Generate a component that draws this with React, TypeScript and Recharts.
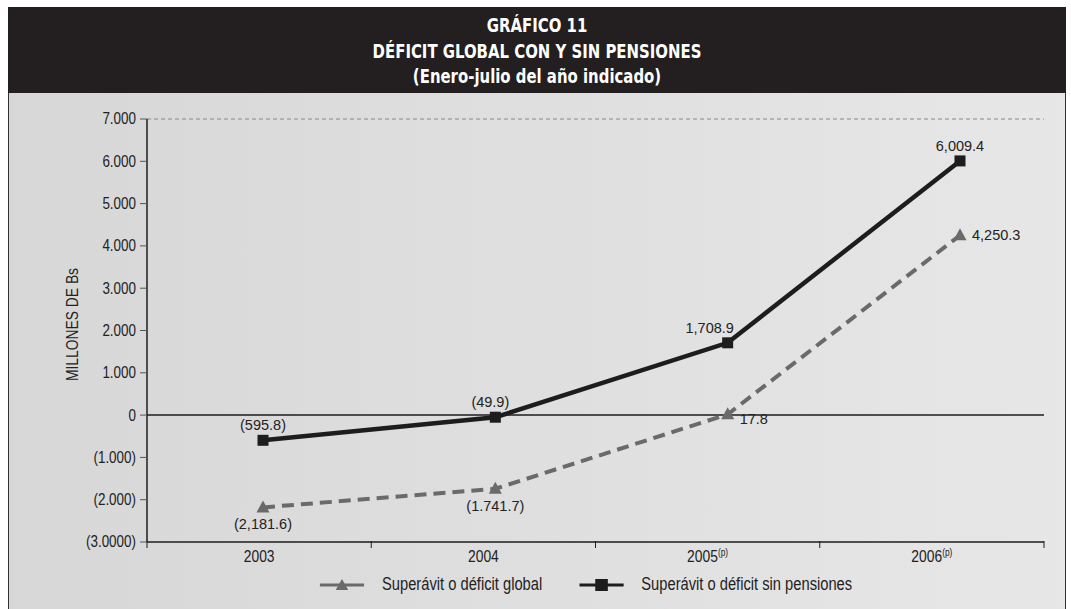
import { LabelList, Legend, Line, LineChart, ReferenceLine, XAxis, YAxis } from "recharts";

const years = ["2003", "2004", "2005", "2006"];
const yearMarks = ["", "", "(p)", "(p)"];
const globalValues = [-2181.6, -1741.7, 17.8, 4250.3];
const sinPensionesValues = [-595.8, -49.9, 1708.9, 6009.4];
const globalLabels = ["(2,181.6)", "(1.741.7)", "17.8", "4,250.3"];
const sinPensionesLabels = ["(595.8)", "(49.9)", "1,708.9", "6,009.4"];
const yTicks = [-3000, -2000, -1000, 0, 1000, 2000, 3000, 4000, 5000, 6000, 7000];
const yTickLabels = ["(3.0000)", "(2.000)", "(1.000)", "0", "1.000", "2.000", "3.000", "4.000", "5.000", "6.000", "7.000"];

// label placement tweaks (kept apart from the values)
const globalLabelPlace = ["below", "below", "right", "right"];
const sinLabelShift = [0, -5, -18, 0];

const data = years.map((year, i) => ({
  year,
  global: globalValues[i],
  sinPensiones: sinPensionesValues[i],
}));

const W = 1071;
const H = 609;
const M = { top: 119, right: 27, bottom: 37, left: 67 };
const Y_AXIS_W = 80;
const plotW = W - M.left - Y_AXIS_W - M.right;
const band = plotW / years.length;

const SANS = '"Liberation Sans", Arial, sans-serif';
const NARROW_X = 0.84; // fake "Arial Narrow" by squeezing Liberation Sans
const DARK = "#1d1d1d";
const GREY = "#6a6a6a";

const XTick = (props: any) => {
  const { x, y, index, payload } = props;
  const axisY = y - 9;
  const last = index === years.length - 1;
  return (
    <g>
      <line x1={x - band / 2} x2={x - band / 2} y1={axisY - 1} y2={axisY + 6} stroke={DARK} />
      {last && <line x1={x + band / 2} x2={x + band / 2} y1={axisY - 1} y2={axisY + 6} stroke={DARK} />}
      <text transform={`translate(${x} ${y + 11}) scale(${NARROW_X} 1)`} textAnchor="middle" fontFamily={SANS} fontSize={16.5} fill="#222">
        {payload.value}
        {yearMarks[index] && (
          <tspan fontSize={10} dy={-6}>
            {yearMarks[index]}
          </tspan>
        )}
      </text>
    </g>
  );
};

const YTick = (props: any) => {
  const { x, y, index } = props;
  return (
    <text transform={`translate(${x} ${y}) scale(${NARROW_X} 1)`} textAnchor="end" dominantBaseline="central" fontFamily={SANS} fontSize={16} fill="#222">
      {yTickLabels[index]}
    </text>
  );
};

const Square = (props: any) => {
  const { cx, cy, index } = props;
  return <rect key={`sq-${index}`} x={cx - 5.5} y={cy - 5.5} width={11} height={11} fill={DARK} />;
};

const Triangle = (props: any) => {
  const { cx, cy, index } = props;
  return <path key={`tr-${index}`} d={`M${cx},${cy - 7} L${cx + 6.5},${cy + 5} L${cx - 6.5},${cy + 5} Z`} fill={GREY} />;
};

const SinLabel = (props: any) => {
  const { x, y, index } = props;
  return (
    <text x={x + sinLabelShift[index]} y={y - 10} textAnchor="middle" fontFamily={SANS} fontSize={14.5} fill="#222">
      {sinPensionesLabels[index]}
    </text>
  );
};

const GlobalLabel = (props: any) => {
  const { x, y, index } = props;
  if (globalLabelPlace[index] === "right") {
    return (
      <text x={x + 12} y={y + 5 + (index === 2 ? 5 : 0)} textAnchor="start" fontFamily={SANS} fontSize={14.5} fill="#222">
        {globalLabels[index]}
      </text>
    );
  }
  return (
    <text x={x} y={y + 22} textAnchor="middle" fontFamily={SANS} fontSize={14.5} fill="#222">
      {globalLabels[index]}
    </text>
  );
};

const LegendContent = (props: any) => {
  const items = props.payload || [];
  return (
    <div
      style={{
        display: "flex",
        justifyContent: "center",
        gap: 44,
        fontFamily: SANS,
        fontSize: 17.5,
        color: "#222",
        transform: `scaleX(${NARROW_X})`,
        transformOrigin: "center",
      }}
    >
      {items.map((it: any) => {
        const dashedGlobal = it.dataKey === "global";
        return (
          <div key={it.dataKey} style={{ display: "flex", alignItems: "center", gap: 21 }}>
            <svg width={53} height={14}>
              <line x1={0} x2={53} y1={7} y2={7} stroke={it.color} strokeWidth={3} />
              {dashedGlobal ? (
                <path d="M26.5,1 L34,12 L19,12 Z" fill={it.color} />
              ) : (
                <rect x={19} y={1} width={15} height={12} fill={it.color} />
              )}
            </svg>
            <span>{it.value}</span>
          </div>
        );
      })}
    </div>
  );
};

const YLabel = (props: any) => {
  const { viewBox } = props;
  const cx = viewBox.x + 5;
  const cy = viewBox.y + viewBox.height / 2 - 6;
  return (
    <text
      transform={`translate(${cx} ${cy}) rotate(-90) scale(${NARROW_X} 1)`}
      textAnchor="middle"
      dominantBaseline="central"
      fontFamily={SANS}
      fontSize={16.5}
      fill="#222"
    >
      MILLONES DE Bs
    </text>
  );
};

export default function App() {
  return (
    <div style={{ position: "absolute", left: 0, top: 0, width: W, height: H, background: "#fff", overflow: "hidden" }}>
      <div
        style={{
          position: "absolute",
          left: 8,
          top: 93,
          width: 1058,
          height: 520,
          background: "linear-gradient(90deg, #d7d7d7 0%, #dfdfdf 50%, #e7e7e7 100%)",
          borderLeft: "1px solid #333",
          borderRight: "1px solid #333",
          boxSizing: "border-box",
        }}
      />
      <div
        style={{
          position: "absolute",
          left: 8,
          top: 7,
          width: 1058,
          height: 86,
          background: "#231f20",
          color: "#fff",
          fontFamily: '"DejaVu Sans Condensed", "Open Sans", sans-serif',
          fontWeight: "bold",
          fontSize: 19.5,
          textAlign: "center",
          lineHeight: "25.5px",
          paddingTop: 6,
          boxSizing: "border-box",
        }}
      >
        <div style={{ transform: "scaleX(0.85)" }}>
          <div>GRÁFICO 11</div>
          <div>DÉFICIT GLOBAL CON Y SIN PENSIONES</div>
          <div>(Enero-julio del año indicado)</div>
        </div>
      </div>
      <div style={{ position: "absolute", left: 0, top: 0 }}>
        <LineChart width={W} height={H} data={data} margin={M}>
          <XAxis
            xAxisId="cat"
            dataKey="year"
            scale="band"
            interval={0}
            tick={<XTick />}
            tickLine={false}
            tickSize={5}
            tickMargin={4}
            axisLine={{ stroke: DARK, strokeWidth: 1.5 }}
          />
          <XAxis xAxisId="pts" dataKey="year" hide padding={{ left: 116, right: 84 }} />
          <YAxis
            yAxisId="l"
            width={Y_AXIS_W}
            domain={[-3000, 7000]}
            ticks={yTicks}
            interval={0}
            tick={<YTick />}
            tickSize={7}
            tickMargin={4}
            tickLine={{ stroke: "#555" }}
            axisLine={{ stroke: DARK, strokeWidth: 1.5 }}
            label={<YLabel />}
          />
          <YAxis yAxisId="r" orientation="right" width={0} domain={[-3000, 7000]} tick={false} tickLine={false} axisLine={{ stroke: "#444" }} />
          <ReferenceLine yAxisId="l" xAxisId="cat" y={7000} stroke="#888" strokeDasharray="4 3" />
          <ReferenceLine yAxisId="l" xAxisId="cat" y={0} stroke={DARK} strokeWidth={1.5} />
          <Line
            xAxisId="pts"
            yAxisId="l"
            dataKey="global"
            name="Superávit o déficit global"
            stroke={GREY}
            strokeWidth={4}
            strokeDasharray="12 7"
            dot={Triangle}
            activeDot={false}
            isAnimationActive={false}
          >
            <LabelList dataKey="global" content={<GlobalLabel />} />
          </Line>
          <Line
            xAxisId="pts"
            yAxisId="l"
            dataKey="sinPensiones"
            name="Superávit o déficit sin pensiones"
            stroke={DARK}
            strokeWidth={4.5}
            dot={Square}
            activeDot={false}
            isAnimationActive={false}
          >
            <LabelList dataKey="sinPensiones" content={<SinLabel />} />
          </Line>
          <Legend
            layout="horizontal"
            verticalAlign="middle"
            align="center"
            content={<LegendContent />}
            wrapperStyle={{ top: 574, left: 101, width: W - 101 }}
          />
        </LineChart>
      </div>
    </div>
  );
}
